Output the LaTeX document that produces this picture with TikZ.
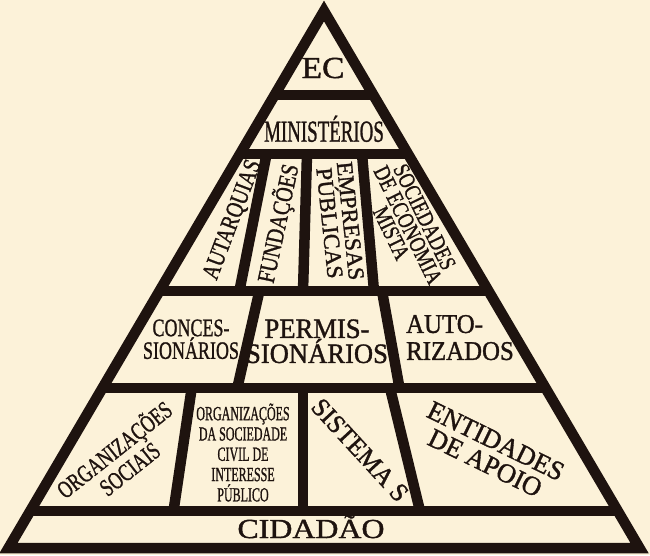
\documentclass[tikz,border=0pt]{standalone}
\usepackage{fontspec}
\setmainfont{Liberation Serif}
\newfontfamily\heavyserif[FakeBold=1.3]{Liberation Serif}
\usepackage{tikz}
\usetikzlibrary{calc}
\definecolor{parch}{HTML}{FCF2D9}
\definecolor{ink}{HTML}{1E130F}
\newcommand{\lblsize}[2]{\heavyserif\fontsize{#1}{#2}\selectfont}

\begin{document}
\begin{tikzpicture}[x=1pt, y=-1pt,
    bar/.style={draw=ink, line width=10.5pt},
    lbl/.style={text=ink, inner sep=0pt, align=center}]
  \useasboundingbox (0,0) rectangle (650,555);
  % Parchment background
  \fill[parch] (0,0) rectangle (650,555);
  % Pyramid corners
  \coordinate (apex) at (324,11);
  \coordinate (bl) at (8.5,548);
  \coordinate (br) at (639.5,548);
  % Level bars
  \foreach \y/\n in {95/a, 154/b, 291/c, 388/d, 511/e}{
    \coordinate (l\n) at ($(apex)!{(\y-11)/537}!(bl)$);
    \coordinate (r\n) at ($(apex)!{(\y-11)/537}!(br)$);
    \draw[bar] (l\n) -- (r\n);
  }
  % Outer frame
  \draw[bar, line join=miter] (apex) -- (bl) -- (br) -- cycle;
  % Dividers inside the levels
  \foreach \xa/\ya/\xb/\yb in {266.6/154/239.4/291, 307/154/303/291, 362/154/374/291,
      259.4/291/237.3/388, 382/291/399.5/388,
      191.7/388/173.5/511, 303/388/303/511, 390/388/420/511}
    \draw[bar] (\xa,\ya) -- (\xb,\yb);

  % Top levels
  \node[lbl, anchor=base, xscale=1.1, font=\lblsize{30.5}{30}] (ec) at (323,78) {EC};
  \node[lbl, anchor=base, xscale=0.62, font=\lblsize{30.5}{30}] (min) at (324,141.7) {MINISTÉRIOS};
  % Indirect administration
  \node[lbl, rotate=69.3, xscale=0.8, font=\lblsize{24.5}{24}] (aut) at (233,220) {AUTARQUIAS};
  \node[lbl, rotate=77.9, xscale=0.82, font=\lblsize{24.5}{24}] (fun) at (278.5,223.5) {FUNDAÇÕES};
  \node[lbl, rotate=-84, font=\lblsize{23}{18}] (emp) at (340,222) {EMPRESAS\\PÚBLICAS};
  \node[lbl, rotate=-64, xscale=0.8, font=\lblsize{23}{18.5}] (soc) at (408,225) {SOCIEDADES\\DE ECONOMIA\\MISTA};
  % Delegated services
  \node[lbl, xscale=0.72, font=\lblsize{25}{21}] (con) at (191,339.3) {CONCES-\\SIONÁRIOS};
  \node[lbl, xscale=0.95, font=\lblsize{28}{25}] (per) at (317,341.3) {PERMIS-\\SIONÁRIOS};
  \node[lbl, align=left, xscale=0.92, font=\lblsize{27}{27}] (aux) at (460,337.6) {AUTO-\\RIZADOS};
  % Third sector
  \node[lbl, rotate=38.5, xscale=0.73, font=\lblsize{24.5}{24.5}] (os) at (121,458) {ORGANIZAÇÕES\\SOCIAIS};
  \node[lbl, xscale=0.6, font=\lblsize{20}{20.3}] (oscip) at (243,452.5) {ORGANIZAÇÕES\\DA SOCIEDADE\\CIVIL DE\\INTERESSE\\PÚBLICO};
  \node[lbl, rotate=-47.4, xscale=0.98, font=\lblsize{26}{26}] (sis) at (360,450) {SISTEMA S};
  \node[lbl, rotate=-26, xscale=0.98, font=\lblsize{27}{24.5}] (ent) at (490.5,452) {ENTIDADES\\DE APOIO};
  % Base
  \node[lbl, anchor=base, xscale=1.16, font=\lblsize{27.5}{27}] (cid) at (311,538) {CIDADÃO};
\end{tikzpicture}
\end{document}
